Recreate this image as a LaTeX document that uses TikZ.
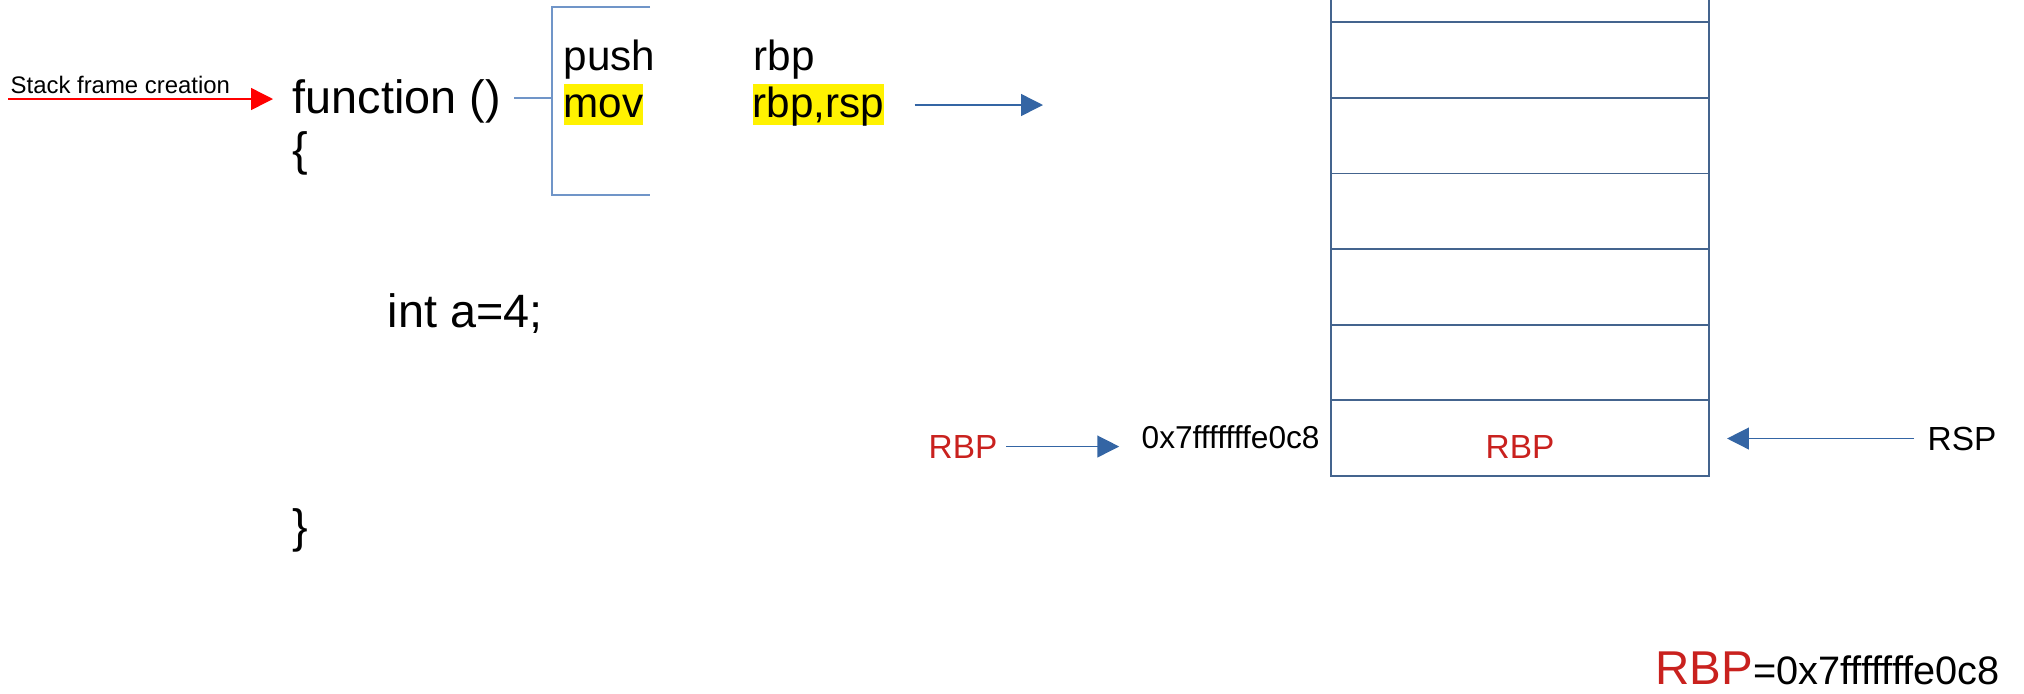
\documentclass[tikz,border=0pt]{standalone}
\usepackage{fontspec}
\setmainfont{Liberation Sans}
\usetikzlibrary{arrows.meta}
\definecolor{arrowblue}{HTML}{3465A4}
\definecolor{stackblue}{HTML}{44648E}
\definecolor{bracketblue}{HTML}{7095C8}
\definecolor{rbpred}{HTML}{C9211E}
\begin{document}
\begin{tikzpicture}[x=0.01cm,y=-0.01cm,
    txt/.style={inner sep=0pt,anchor=base west},
    code/.style={txt,font=\fontsize{13.3}{16}\selectfont},
    asm/.style={txt,font=\fontsize{12}{14}\selectfont},
    hl/.style={asm,fill=yellow,text height=0.95em,text depth=0.22em},
    lbl/.style={txt,font=\fontsize{9.5}{11}\selectfont},
    cell/.style={draw=stackblue,line width=0.5pt,minimum width=3.78cm,minimum height=0.756cm,inner sep=0pt,outer sep=0pt},
    arr/.style={-{Triangle[length=6.2pt,width=6.2pt]},arrowblue,line width=0.4pt}]
\useasboundingbox (0,0) rectangle (2024,693);

\node[txt,font=\fontsize{6.8}{8}\selectfont] (sflabel) at (10,93) {Stack frame creation};
\coordinate (sfstart) at (8,99);
\node[code] (func) at (292,113) {function ()};
\node[code] (lbrace) at (292,165) {\{};
\node[code] (decl) at (387,327) {int a=4;};
\node[code] (rbrace) at (292,542) {\}};
\draw[-{Triangle[length=6.2pt,width=6.2pt]},red,line width=0.4pt,shorten >=5.4pt] (sfstart) -- (sfstart -| func.west);

\node[asm] (push) at (563,70) {push};
\node[asm] (pushreg) at (753,70) {rbp};
\node[hl] (mov) at (563,117) {mov};
\node[hl] (movreg) at (752,117) {rbp,rsp};
\coordinate (brk) at (552,98);
\draw[bracketblue,line width=0.4pt] (650,7) -- (552,7) -- (552,195) -- (650,195);
\draw[bracketblue,line width=0.4pt,shorten <=3.7pt] (brk -| func.east) -- (brk);
\coordinate (movtip) at (1043,105);
\draw[arr,shorten <=8.5pt] (movtip -| movreg.east) -- (movtip);

% stack
\node[cell,text=rbpred,font=\fontsize{9.5}{11}\selectfont,text height=11.4pt,text depth=0pt] (c0) at (1520,438) {RBP};
\foreach \i in {1,...,5}
  \node[cell] (c\i) at (1520,{438-75.6*\i}) {};
\coordinate (top) at (0,0);
\draw[stackblue,line width=0.5pt] (c5.north west) -- (c5.north west |- top) (c5.north east) -- (c5.north east |- top);

\node[lbl,text=rbpred] (rbpl) at (928,458) {RBP};
\node[txt,font=\fontsize{9}{11}\selectfont] (addr) at (1141,448) {0x7fffffffe0c8};
\node[lbl] (rsp) at (1927,450) {RSP};
\draw[arr,shorten <=2.3pt,shorten >=6.2pt] (rbpl.east) -- (rbpl.east -| addr.west);
\draw[arr,shorten <=3.7pt,shorten >=5.1pt] (rsp.west) -- (rsp.west -| c0.east);

\node[txt,font=\fontsize{11.3}{13}\selectfont] (rbpval) at (1655,684) {{\color{rbpred}\fontsize{13.5}{15}\selectfont RBP}=0x7fffffffe0c8};
\end{tikzpicture}
\end{document}
